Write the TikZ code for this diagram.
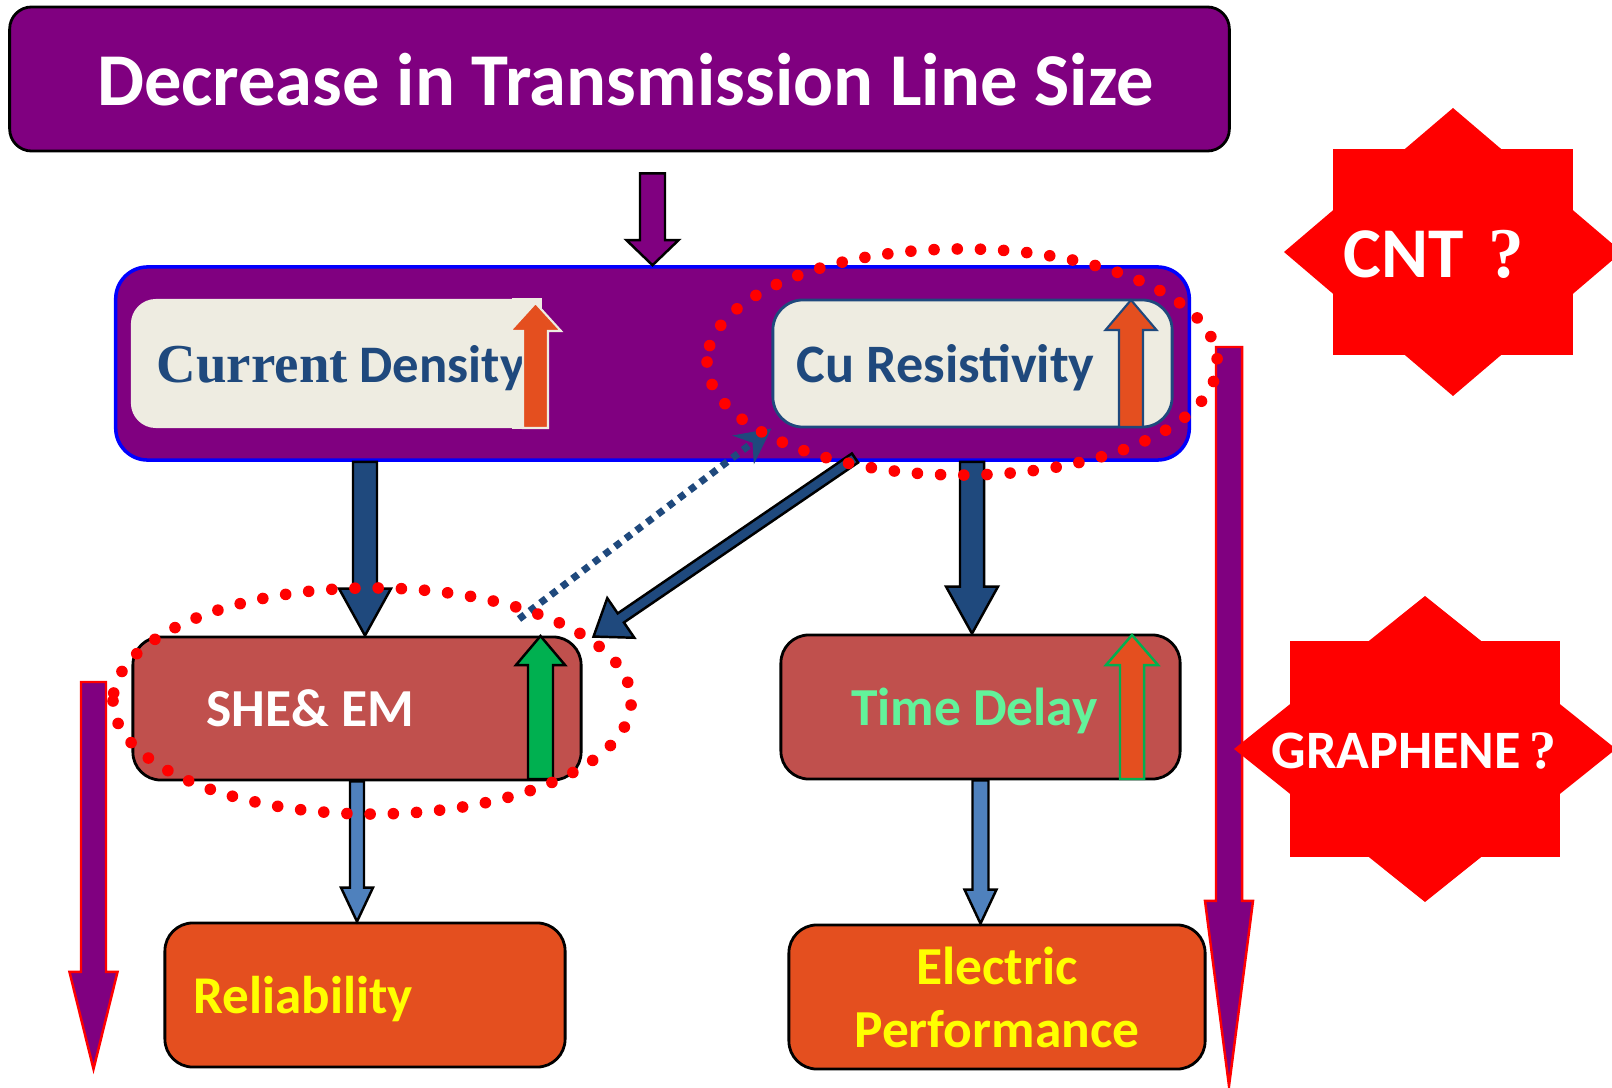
\documentclass[tikz,border=0pt]{standalone}
\usepackage{fontspec}
\setmainfont{Carlito}
\newfontfamily\serifface{Liberation Serif}
\usetikzlibrary{calc,arrows.meta}

\definecolor{plum}{HTML}{800080}
\definecolor{dkblue}{HTML}{1F497D}
\definecolor{ltblue}{HTML}{4F81BD}
\definecolor{beige}{HTML}{EEECE1}
\definecolor{brick}{HTML}{C0504D}
\definecolor{orng}{HTML}{E44F1F}
\definecolor{grn}{HTML}{00B050}
\definecolor{mint}{HTML}{62F29A}
\definecolor{yel}{HTML}{FFFF00}

% block arrow: [style]{tail}{tip}{half shaft}{half head}{head length}
\newcommand{\fatarrow}[6][]{%
  \coordinate (fa-base) at ($(#3)!#6!(#2)$);
  \draw[line join=miter, #1] ($(#2)!#4!90:(#3)$) -- ($(fa-base)!#4!90:(#3)$)
    -- ($(fa-base)!#5!90:(#3)$) -- (#3) -- ($(fa-base)!#5!-90:(#3)$)
    -- ($(fa-base)!#4!-90:(#3)$) -- ($(#2)!#4!-90:(#3)$) -- cycle;
}
% eight point star: {centre}{box half w}{box half h}{tip half w}{tip half h}
\newcommand{\starburst}[5]{%
  \fill[red] ($(#1)+(-#2,-#3)$) rectangle ($(#1)+(#2,#3)$);
  \fill[red] ($(#1)+(0,-#5)$) -- ($(#1)+(#4,0)$) -- ($(#1)+(0,#5)$) -- ($(#1)+(-#4,0)$) -- cycle;
}

\begin{document}
\begin{tikzpicture}[x=0.01cm, y=-0.01cm,
    rbox/.style={draw=black, line width=0.8pt, rounded corners=0.28cm, inner sep=0pt, text depth=0pt},
    dotring/.style={draw=red, line width=3.3pt, line cap=round, dash pattern=on 0pt off 6.6pt},
    blk/.style={draw=black, line width=0.7pt}]
\useasboundingbox (0,0) rectangle (1612,1088);
\clip (0,0) rectangle (1612,1088);

% top banner
\node[rbox, fill=plum, rounded corners=0.22cm, minimum width=12.19cm, minimum height=1.44cm,
      text=white, font=\bfseries\fontsize{21.2}{26}\selectfont] (banner) at (619.5,79)
      {\kern0.12cm Decrease in Transmission Line Size};

% middle block
\node[draw=blue, line width=1pt, fill=plum, rounded corners=0.32cm,
      minimum width=10.73cm, minimum height=1.93cm] (midbox) at (652.5,363.5) {};
\node[fill=beige, rounded corners=0.25cm, minimum width=4.1cm, minimum height=1.29cm,
      inner sep=0pt] (cd) at (336,363.5) {};
\fill[beige] (cd.north east) rectangle ([xshift=-0.3cm]cd.south east);
\node[text=dkblue, text depth=0pt, font=\bfseries\fontsize{15}{18}\selectfont] (cdtxt) at ($(cd)+(5,0)$)
      {{\serifface\fontsize{15.6}{18}\selectfont Current} Density};
\node[fill=beige, draw=dkblue, line width=0.8pt, rounded corners=0.3cm, minimum width=3.99cm,
      minimum height=1.27cm, inner sep=0pt, text depth=0pt, text=dkblue,
      font=\bfseries\fontsize{15.4}{19}\selectfont] (cu) at (972.5,363.5) {Cu Resistivity\kern0.54cm};
\fatarrow[fill=orng, draw=beige, line width=0.6pt]{535.5,428}{535.5,303}{0.125cm}{0.255cm}{0.28cm}
\fatarrow[fill=orng, draw=dkblue, line width=0.6pt]{1131,427}{1131,300}{0.12cm}{0.255cm}{0.3cm}

% effects
\node[rbox, fill=brick, minimum width=4.48cm, minimum height=1.43cm, text=white,
      font=\bfseries\fontsize{15.2}{19}\selectfont] (she) at (357,708.5) {SHE\& EM\kern0.93cm};
\node[rbox, fill=brick, minimum width=3.99cm, minimum height=1.44cm, text=mint,
      font=\bfseries\fontsize{15.2}{19}\selectfont] (td) at (980.5,707) {Time Delay\kern0.12cm};
\fatarrow[fill=grn, blk]{540.5,779}{540.5,636}{0.125cm}{0.245cm}{0.29cm}
\fatarrow[fill=orng, draw=grn, line width=0.7pt]{1132,779}{1132,635}{0.12cm}{0.26cm}{0.3cm}

% results
\node[rbox, fill=orng, minimum width=4cm, minimum height=1.44cm, text=yel,
      font=\bfseries\fontsize{15.1}{19}\selectfont] (rel) at (365,995) {Reliability\kern1.24cm};
\node[rbox, fill=orng, minimum width=4.16cm, minimum height=1.44cm, text=yel, align=center,
      font=\bfseries\fontsize{15.2}{18}\selectfont] (ep) at (997,997) {Electric\\Performance};

% connectors
\coordinate (t0) at ($(midbox.north |- banner.south)+(0,21)$);
\fatarrow[fill=plum, blk]{t0}{midbox.north}{0.125cm}{0.26cm}{0.25cm}
\coordinate (l1) at ($(she.north)+(8,0)$);
\coordinate (l0) at (midbox.south -| l1);
\fatarrow[fill=dkblue, blk]{l0}{l1}{0.12cm}{0.26cm}{0.47cm}
\coordinate (r1) at ($(td.north)+(-8.5,0)$);
\coordinate (r0) at (midbox.south -| r1);
\fatarrow[fill=dkblue, blk]{r0}{r1}{0.12cm}{0.26cm}{0.47cm}
\coordinate (dg0) at (855,458);
\coordinate (dg1) at ($(she.north east)+(11,1)$);
\fatarrow[fill=dkblue, blk]{dg0}{dg1}{0.055cm}{0.24cm}{0.33cm}
\coordinate (dt0) at (519,619);
\draw[dkblue, line width=2pt, dash pattern=on 2pt off 1.8pt, -{Stealth[length=10pt,width=10pt]}]
  (dt0) -- (cu.south west);
\coordinate (b1) at (she.south |- rel.north);
\fatarrow[fill=ltblue, blk]{she.south}{b1}{0.07cm}{0.16cm}{0.34cm}
\coordinate (b2) at (td.south |- ep.north);
\fatarrow[fill=ltblue, blk]{td.south}{b2}{0.08cm}{0.16cm}{0.34cm}

% long side arrows
\coordinate (lp0) at (93.5,682);
\coordinate (lp1) at (93.5,1069);
\fatarrow[fill=plum, draw=red, line width=0.7pt]{lp0}{lp1}{0.125cm}{0.24cm}{0.97cm}
\coordinate (rp0) at (1229,347);
\coordinate (rp1) at (1229,1086);
\fatarrow[fill=plum, draw=red, line width=0.7pt]{rp0}{rp1}{0.13cm}{0.24cm}{1.85cm}

% alternatives
\coordinate (cntc) at (1453,252);
\starburst{cntc}{120}{103}{169}{144}
\node[text=white, font=\bfseries\fontsize{20.3}{24}\selectfont] (cnt) at ($(cntc)+(-19,2)$)
  {CNT\kern0.35em{\serifface ?}};
\coordinate (grc) at (1425,749);
\starburst{grc}{135}{108}{191}{153}
\node[text=white, font=\bfseries\fontsize{15.4}{19}\selectfont] (gr) at ($(grc)+(-11,2)$)
  {GRAPHENE\kern0.15em{\serifface ?}};

% dotted rings
\draw[dotring] ($(cu)+(-265.5,-1.5)$) arc[start angle=180, end angle=540, x radius=2.55cm, y radius=1.13cm];
\draw[dotring] ($(she)+(-244,-7.5)$) arc[start angle=180, end angle=540, x radius=2.59cm, y radius=1.13cm];
\end{tikzpicture}
\end{document}
